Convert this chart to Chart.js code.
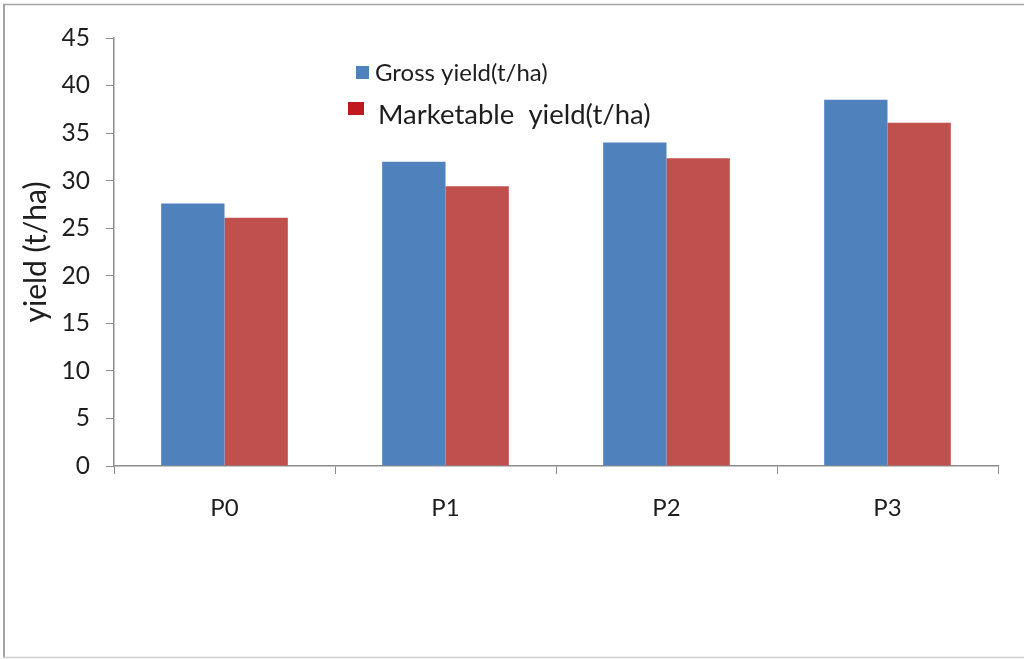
<!DOCTYPE html>
<html>
<head>
<meta charset="utf-8">
<title>Yield</title>
<script src="https://cdn.jsdelivr.net/npm/chart.js@4"></script>
<style>
  html, body { margin: 0; padding: 0; background: #fff; }
  #wrap { width: 1024px; height: 659px; position: relative; }
</style>
</head>
<body>
<div id="wrap"><canvas id="yieldChart"></canvas></div>
<script>
const treatments = ['P0', 'P1', 'P2', 'P3'];
const grossYield = [27.6, 32.0, 34.0, 38.5];
const marketableYield = [26.1, 29.4, 32.35, 36.1];
const seriesNames = ['Gross yield(t/ha)', 'Marketable  yield(t/ha)'];
const axisTitle = 'yield (t/ha)';

const FONT = 'Lato, "Open Sans", sans-serif';
const axisGrey = '#8c8c8c';
const textColor = '#1e1e1e';

// white page with the grey frame around it
const framePlugin = {
  id: 'frame',
  beforeDraw(chart) {
    const ctx = chart.ctx;
    ctx.save();
    ctx.fillStyle = '#fff';
    ctx.fillRect(0, 0, chart.width, chart.height);
    ctx.strokeStyle = '#a3a3a3';
    ctx.lineWidth = 2;
    ctx.beginPath();
    ctx.moveTo(4, 4);
    ctx.lineTo(4, 657);
    ctx.stroke();
    ctx.lineWidth = 1.5;
    ctx.beginPath();
    ctx.moveTo(3, 4.5);
    ctx.lineTo(chart.width, 4.5);
    ctx.stroke();
    ctx.strokeStyle = '#cfcfcf';
    ctx.beginPath();
    ctx.moveTo(3, 657.5);
    ctx.lineTo(chart.width, 657.5);
    ctx.stroke();
    ctx.restore();
  }
};

// legend sits inside the plot, two lines with their own sizes
const legendPlugin = {
  id: 'innerLegend',
  afterDraw(chart) {
    const ctx = chart.ctx;
    const rows = [
      { box: [356, 66, 13, 13], color: '#4f81bd', text: chart.data.datasets[0].label, x: 375, y: 73, size: 24 },
      { box: [348, 102, 16, 13], color: '#c0191f', text: chart.data.datasets[1].label, x: 378, y: 115, size: 27.5 }
    ];
    ctx.save();
    ctx.textBaseline = 'middle';
    ctx.textAlign = 'left';
    rows.forEach(r => {
      ctx.fillStyle = r.color;
      ctx.fillRect(r.box[0], r.box[1], r.box[2], r.box[3]);
      ctx.fillStyle = textColor;
      ctx.font = r.size + 'px ' + FONT;
      ctx.fillText(r.text, r.x, r.y);
    });
    ctx.restore();
  }
};

new Chart(document.getElementById('yieldChart'), {
  type: 'bar',
  data: {
    labels: treatments,
    datasets: [
      {
        label: seriesNames[0],
        data: grossYield,
        backgroundColor: '#4f81bd',
        borderWidth: 0
      },
      {
        label: seriesNames[1],
        data: marketableYield,
        backgroundColor: '#c0504d',
        borderWidth: 0
      }
    ]
  },
  options: {
    responsive: true,
    maintainAspectRatio: false,
    animation: false,
    layout: { padding: { left: 0, top: 38, right: 26, bottom: 0 } },
    datasets: {
      bar: { categoryPercentage: 0.573, barPercentage: 1.0 }
    },
    plugins: {
      legend: { display: false },
      tooltip: { enabled: false }
    },
    scales: {
      x: {
        offset: true,
        afterFit(scale) { scale.height = 193; },
        grid: {
          offset: true,
          drawOnChartArea: false,
          drawTicks: true,
          tickLength: 8,
          color: axisGrey
        },
        border: { color: axisGrey, width: 1.5 },
        ticks: {
          color: textColor,
          padding: 20,
          font: { family: FONT, size: 24 }
        }
      },
      y: {
        min: 0,
        max: 45,
        afterFit(scale) { scale.width = 114; },
        grid: {
          drawOnChartArea: false,
          drawTicks: true,
          tickLength: 8,
          color: axisGrey
        },
        border: { color: axisGrey, width: 1.5 },
        ticks: {
          stepSize: 5,
          color: textColor,
          padding: 16,
          font: { family: FONT, size: 24.5 }
        },
        title: {
          display: true,
          text: axisTitle,
          color: textColor,
          padding: { top: 18, bottom: 0 },
          font: { family: FONT, size: 30 }
        }
      }
    }
  },
  plugins: [framePlugin, legendPlugin]
});
</script>
</body>
</html>
